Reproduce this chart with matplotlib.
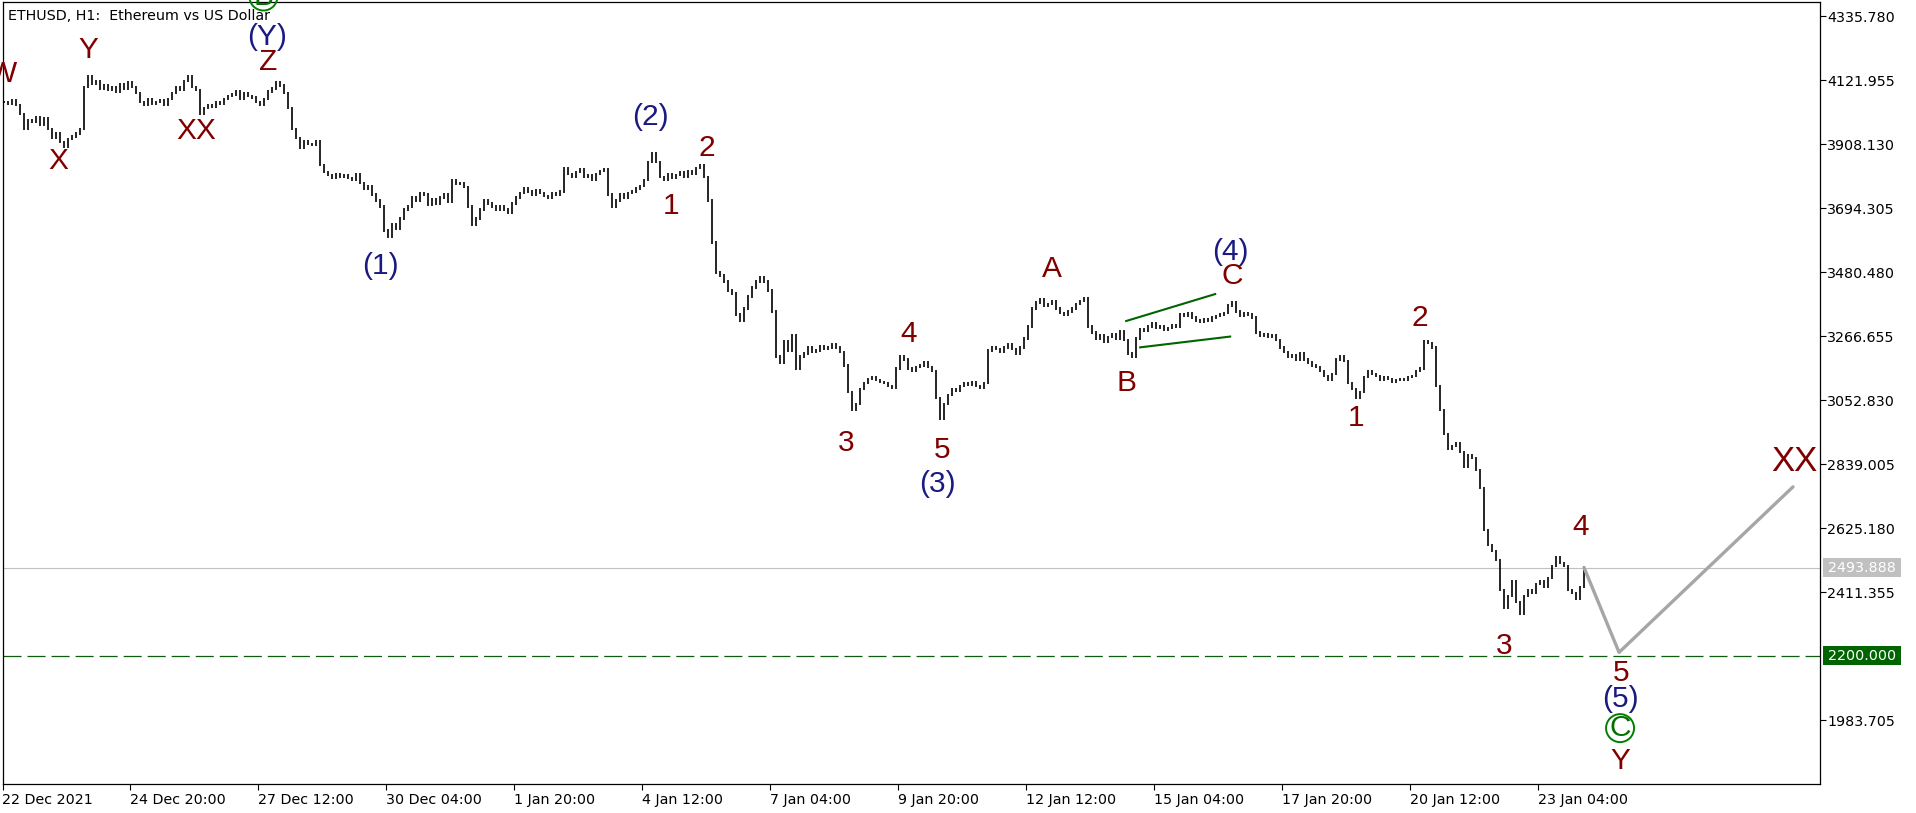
import numpy as np
import matplotlib
matplotlib.use("Agg")
import matplotlib.pyplot as plt
import matplotlib.transforms as mtransforms
from matplotlib.patches import Rectangle

# ETHUSD H1 closes, read every 2 hours starting 22 Dec 2021 04:00
close_2h = [
    4050, 4045, 4055, 4040,                                  # h0
    4010, 3960, 3990,                                        # h8
    3985, 4000, 3975, 3995, 3960,                            # h14
    3930, 3945, 3915, 3900,                                  # h24
    3925, 3935, 3945, 3960,                                  # h32
    4100, 4135,                                              # h40
    4110, 4120, 4095, 4105, 4090, 4100, 4085, 4110, 4095, 4115, 4100, 4080,  # h44
    4050, 4040, 4060, 4045, 4050, 4055, 4040, 4060,          # h68
    4080, 4100, 4090, 4120, 4135, 4100, 4090,                # h84
    4010,                                                    # h98
    4030, 4040, 4035, 4050, 4045, 4060,                      # h100
    4070, 4075, 4085, 4060, 4080, 4070, 4065,                # h112
    4050, 4040, 4060,                                        # h126
    4085, 4095, 4115, 4105,                                  # h132
    4080, 4030, 3960, 3930, 3895, 3920,                      # h140
    3910, 3905, 3920,                                        # h152
    3840, 3815,                                              # h158
    3805, 3795, 3810, 3800, 3805, 3795, 3790, 3810,          # h162
    3780, 3760, 3770, 3740, 3720, 3700,                      # h178
    3620, 3600,                                              # h190
    3640, 3625, 3660, 3690, 3700,                            # h194
    3730, 3720, 3745, 3740, 3705, 3725, 3710, 3730, 3740, 3715,  # h204
    3790, 3775, 3780, 3765,                                  # h224
    3700, 3640, 3660,                                        # h232
    3690, 3720, 3710, 3700, 3690,                            # h238
    3700, 3690, 3680, 3710, 3730,                            # h248
    3745, 3760, 3750, 3740, 3755, 3745, 3735, 3730, 3745, 3740, 3750,  # h258
    3830, 3810, 3800, 3815, 3825,                            # h280
    3800, 3805, 3790, 3810, 3820, 3825,                      # h290
    3740, 3700, 3720,                                        # h302
    3740, 3730, 3745, 3750, 3760, 3770, 3790,                # h308
    3850, 3880, 3850,                                        # h322
    3800, 3790, 3810, 3795, 3805, 3815, 3800, 3820,          # h328
    3810, 3830, 3840, 3800,                                  # h344
    3720, 3580, 3480,                                        # h352
    3470, 3450, 3420, 3410,                                  # h358
    3340, 3320, 3360,                                        # h366
    3400, 3430, 3450, 3465, 3450, 3420,                      # h372
    3350, 3200,                                              # h384
    3180, 3250, 3220, 3270, 3160, 3200,                      # h388
    3210, 3230, 3215, 3220, 3235, 3225, 3230, 3240, 3230, 3215,  # h400
    3170, 3080, 3020, 3040,                                  # h420
    3090, 3110, 3125, 3130, 3120, 3115, 3110,                # h428
    3100, 3095,                                              # h442
    3160, 3200, 3190,                                        # h446
    3160, 3150, 3165, 3170, 3180, 3165, 3150,                # h452
    3060, 2990, 3040, 3070,                                  # h466
    3090, 3085, 3100, 3110, 3105, 3115, 3100, 3095, 3110,    # h474
    3220, 3230,                                              # h492
    3225, 3215, 3230, 3240, 3225, 3210, 3230, 3260,          # h496
    3300, 3360,                                              # h512
    3380, 3390, 3370, 3375, 3385, 3360, 3345, 3340, 3350, 3360, 3375, 3385, 3395,  # h516
    3300, 3280,                                              # h542
    3260, 3270, 3250, 3265, 3275, 3260, 3285, 3255,          # h546
    3210, 3200,                                              # h562
    3260, 3290, 3285, 3300, 3310,                            # h566
    3295, 3300, 3290, 3295, 3305, 3300,                      # h576
    3340, 3335, 3345, 3330, 3320, 3315, 3325, 3320, 3330, 3335, 3340, 3345, 3370,  # h588
    3380, 3350, 3335, 3345, 3340, 3330,                      # h614
    3280, 3270, 3275, 3265, 3270, 3255,                      # h626
    3230, 3215, 3200, 3205, 3190, 3210, 3190,                # h638
    3180, 3170, 3165, 3150, 3135, 3120, 3140,                # h652
    3190, 3200, 3185,                                        # h666
    3110, 3090, 3060, 3080,                                  # h672
    3130, 3150, 3140, 3135, 3120, 3130, 3125, 3115, 3120, 3125, 3120, 3130,  # h680
    3135, 3150,                                              # h704
    3160, 3250, 3245, 3230,                                  # h708
    3100, 3020, 2940,                                        # h716
    2890, 2900, 2910, 2880,                                  # h722
    2830, 2870, 2860, 2820, 2760,                            # h730
    2620, 2570, 2550, 2520,                                  # h740
    2420, 2360, 2400,                                        # h748
    2450, 2380, 2340, 2400, 2420,                            # h754
    2410, 2440, 2450, 2430, 2460,                            # h764
    2500, 2530, 2510, 2500,                                  # h774
    2420, 2410, 2390, 2430,                                  # h782
    2494,                                                    # h790
]

tick_hours = [0, 64, 128, 192, 256, 320, 384, 448, 512, 576, 640, 704, 768]
tick_labels = ["22 Dec 2021", "24 Dec 20:00", "27 Dec 12:00", "30 Dec 04:00",
               "1 Jan 20:00", "4 Jan 12:00", "7 Jan 04:00", "9 Jan 20:00",
               "12 Jan 12:00", "15 Jan 04:00", "17 Jan 20:00", "20 Jan 12:00",
               "23 Jan 04:00"]
price_ticks = [4335.780, 4121.955, 3908.130, 3694.305, 3480.480, 3266.655,
               3052.830, 2839.005, 2625.180, 2411.355, 1983.705]

last_price = 2493.888
target_price = 2200.0

# projected path 4 -> 5 -> XX
proj_hours = [791, 808.5, 895.5]
proj_prices = [2494, 2211, 2764]

# contracting triangle boundaries in wave (4)
tri_upper_h = [562, 606.5]
tri_upper_p = [3318, 3408]
tri_lower_h = [569, 614]
tri_lower_p = [3230, 3266]

RED = "#800000"
NAVY = "#1a1a80"
GREEN = "#006400"

# (text, hour, price, colour)
wave_labels = [
    ("W", 0.5, 4143, RED), ("Y", 43, 4223, RED), ("X", 28, 3853, RED),
    ("XX", 97, 3953, RED), ("Z", 133, 4183, RED), ("(Y)", 132.5, 4267, NAVY),
    ("(1)", 189, 3502, NAVY), ("(2)", 324, 4000, NAVY), ("2", 352.5, 3896, RED),
    ("1", 334.5, 3702, RED), ("3", 422, 2910, RED), ("4", 453, 3275, RED),
    ("5", 470, 2887, RED), ("(3)", 467.5, 2773, NAVY), ("A", 525, 3492, RED),
    ("B", 562, 3111, RED), ("(4)", 614, 3549, NAVY), ("C", 615, 3468, RED),
    ("1", 677, 2994, RED), ("2", 709, 3328, RED), ("3", 751, 2232, RED),
    ("4", 789.5, 2630, RED), ("5", 809.5, 2142, RED), ("(5)", 809, 2055, NAVY),
    ("Y", 809, 1848, RED),
]
circled_labels = [("B", 130.5, 4402), ("C", 809, 1958)]

W, H = 1916, 813
fig = plt.figure(figsize=(W / 100, H / 100), dpi=100)
ax = fig.add_axes([2.5 / W, (H - 783.5) / H, (1820 - 2.5) / W, (783.5 - 2.5) / H])

closes = np.array(close_2h, dtype=float)
hours = 2 * np.arange(len(closes)) + 1
opens = np.concatenate([[closes[0]], closes[:-1]])
lo = np.minimum(opens, closes)
hi = np.maximum(opens, closes)

# plain vertical bars, as the terminal draws them at this zoom
ax.vlines(hours, lo - 4, hi + 4, color="black", lw=1.2)

ax.axhline(last_price, color="#c0c0c0", lw=0.8, zorder=1)
plt.rcParams["lines.scale_dashes"] = False
ax.axhline(target_price, color="#0d5c0d", lw=0.9, dashes=(13, 4.3))

ax.plot(proj_hours, proj_prices, color="#a6a6a6", lw=2.4, solid_capstyle="round")
ax.plot(tri_upper_h, tri_upper_p, color=GREEN, lw=1.5)
ax.plot(tri_lower_h, tri_lower_p, color=GREEN, lw=1.5)

wave_font = dict(family="Liberation Sans", size=21.5)
for txt, h, p, col in wave_labels:
    ax.text(h, p, txt, color=col, ha="center", va="center", fontdict=wave_font)
ax.text(896, 2847, "XX", color=RED, ha="center", va="center",
        family="Liberation Sans", size=25)
for txt, h, p in circled_labels:
    ax.text(h, p, txt, color="#007000", ha="center", va="center", fontdict=wave_font,
            clip_on=False,
            bbox=dict(boxstyle="circle,pad=0.0", fc="none", ec="#008000", lw=1.4))

ax.set_xlim(0.25, 909)
ax.set_ylim(1773, 4382)

ax.yaxis.tick_right()
ax.set_yticks(price_ticks)
ax.set_yticklabels([f"{v:.3f}" for v in price_ticks])
ax.set_xticks(tick_hours)
ax.set_xticklabels(tick_labels)
for lab in ax.get_xticklabels():
    lab.set_horizontalalignment("left")
ax.tick_params(axis="y", direction="out", length=4, width=0.8, pad=1,
               labelsize=10.3, colors="black")
ax.tick_params(axis="x", direction="out", length=4, width=0.8, pad=3,
               labelsize=10.3, colors="black")
for s in ax.spines.values():
    s.set_linewidth(0.9)
    s.set_color("black")

# price tags on the right scale
trans = mtransforms.blended_transform_factory(ax.transAxes, ax.transData)
px_w = 1 / (1820 - 2.5)
price_per_px = (4382 - 1773) / 781
for price, fc, txt in [(last_price, "#c0c0c0", "2493.888"),
                       (target_price, GREEN, "2200.000")]:
    ax.add_patch(Rectangle((1 + 3 * px_w, price - 9.5 * price_per_px), 78 * px_w,
                           19 * price_per_px, transform=trans, fc=fc, ec="none",
                           clip_on=False))
    ax.text(1 + 42 * px_w, price, txt, transform=trans, color="white",
            ha="center", va="center", fontsize=10.3, clip_on=False)

ax.text(6 * px_w, 4335.78, "ETHUSD, H1:  Ethereum vs US Dollar",
        transform=trans, ha="left", va="center", fontsize=10.3, color="black")

fig.savefig("out.png", dpi=100)
